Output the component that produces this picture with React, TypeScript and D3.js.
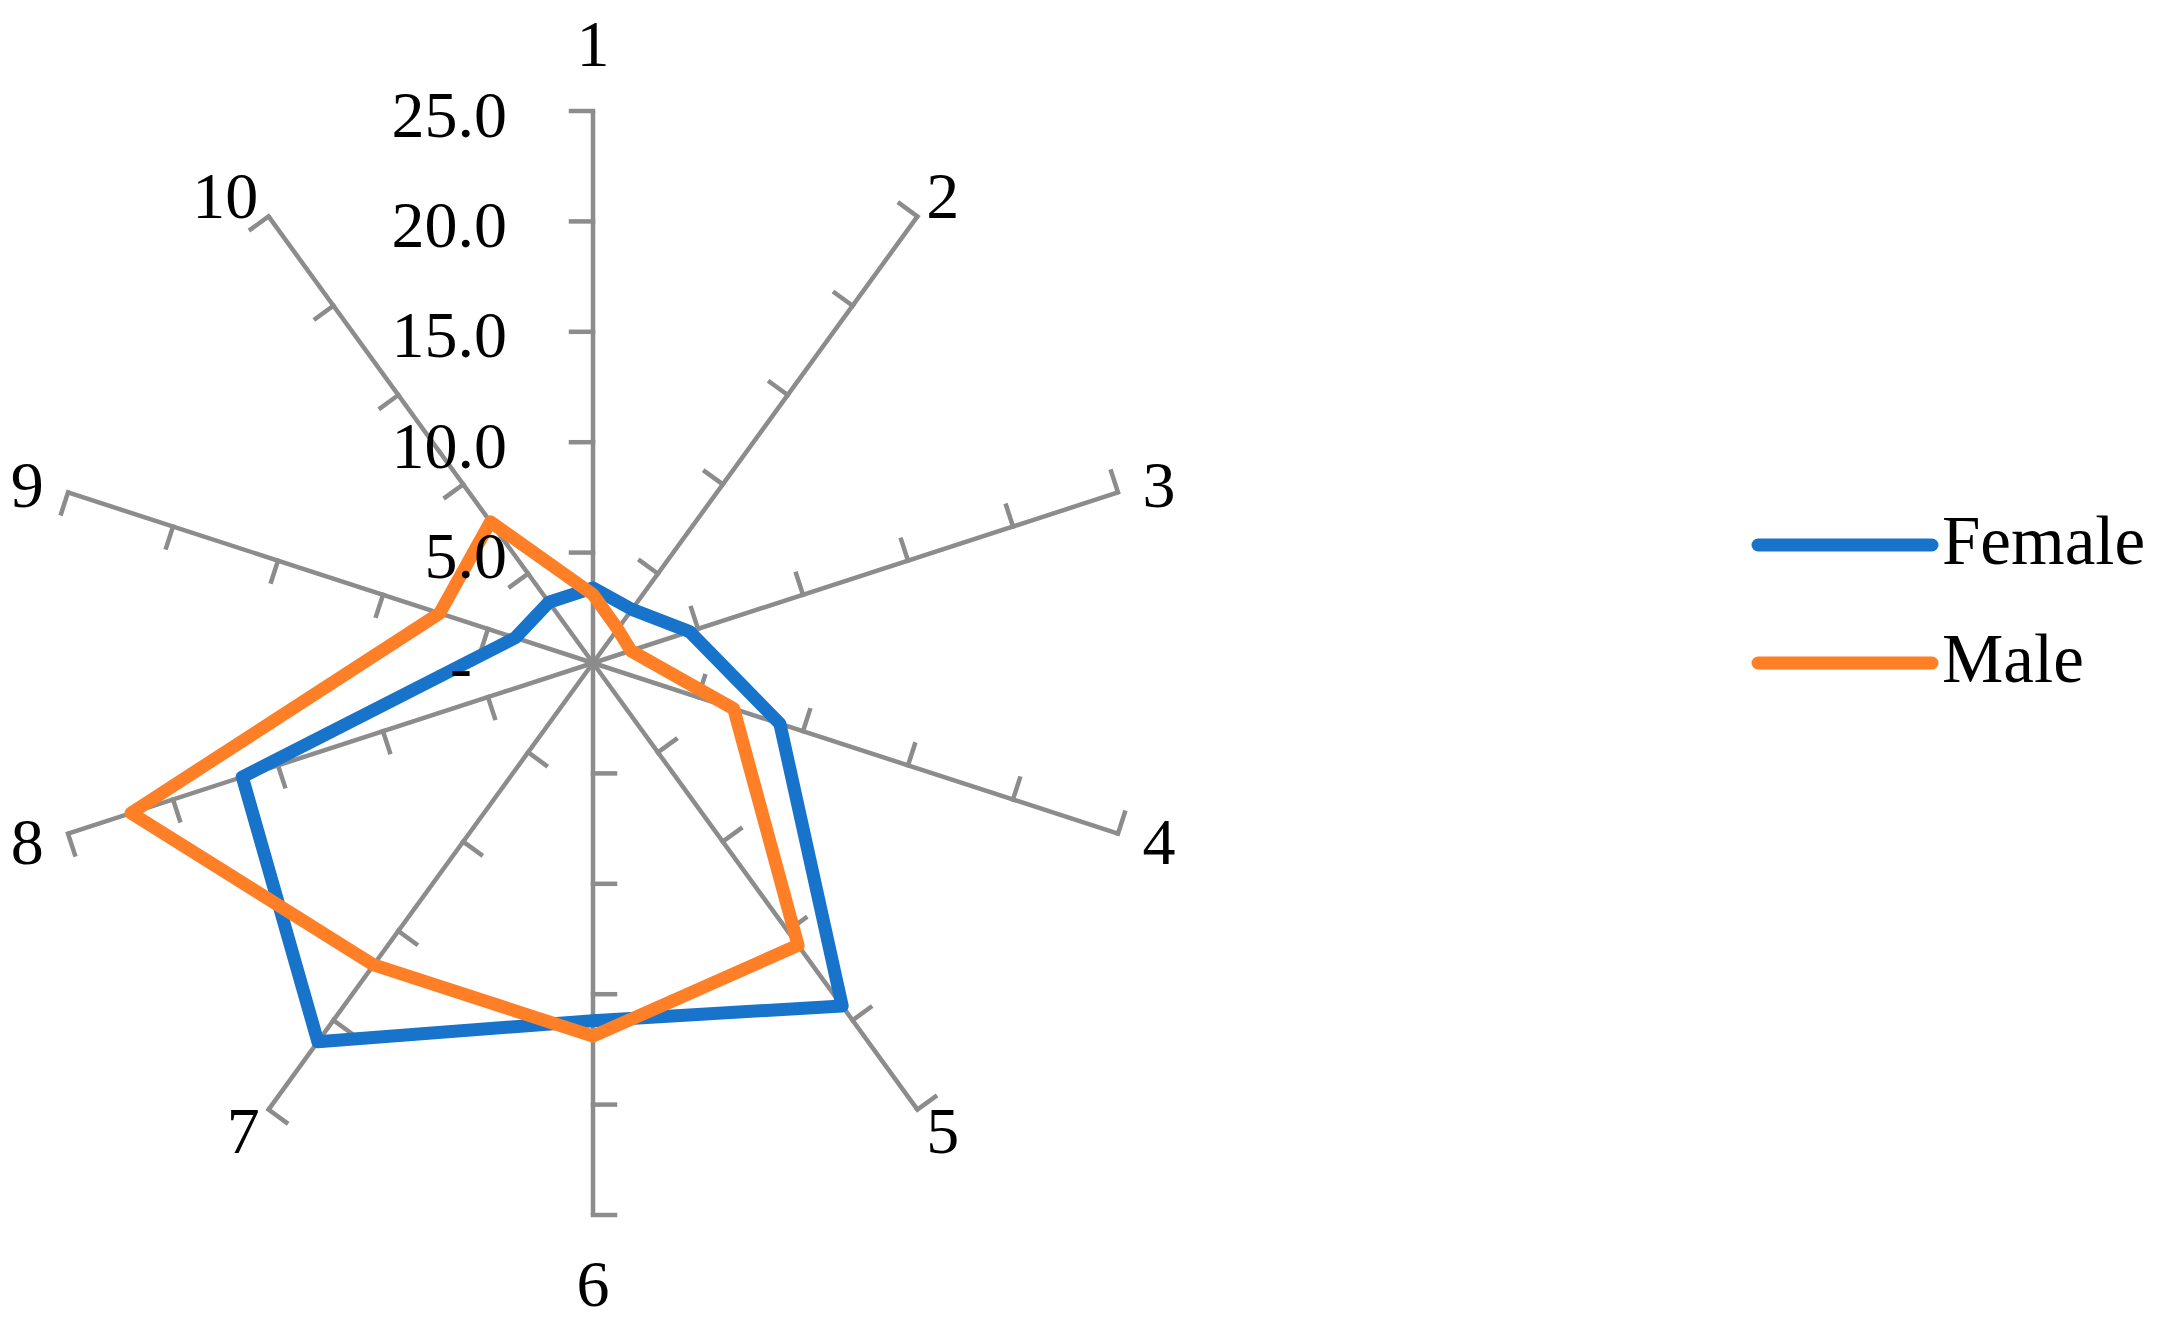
import React, { useRef, useEffect } from 'react';
import * as d3 from 'd3';

const WIDTH = 2165;
const HEIGHT = 1320;
const CX = 593;
const CY = 663;
const R = 552;
const FONT = '"Liberation Serif", "Times New Roman", serif';

const axes = ['1', '2', '3', '4', '5', '6', '7', '8', '9', '10'];
const female = [3.4, 3.0, 4.6, 8.9, 19.2, 16.2, 21.2, 16.7, 3.7, 3.4];
const male = [3.1, 1.9, 1.8, 6.7, 15.8, 16.9, 16.9, 22.0, 7.3, 7.9];
const tickValues = [0, 5, 10, 15, 20, 25];
const tickLabels = ['-', '5.0', '10.0', '15.0', '20.0', '25.0'];

const series = [
  { name: 'Female', values: female, color: '#1874CB' },
  { name: 'Male', values: male, color: '#FF7F27' },
];

export default function App() {
  const svgRef = useRef<SVGSVGElement>(null);

  useEffect(() => {
    if (!svgRef.current) return;
    const svg = d3.select(svgRef.current);
    svg.selectAll('*').remove();

    const r = d3.scaleLinear().domain([0, 25]).range([0, R]);
    const angle = d3.scaleBand().domain(axes).range([0, 2 * Math.PI]).align(0).paddingInner(0).paddingOuter(0);
    const ang = (a: string) => angle(a)!;
    const dir = (a: string) => [Math.sin(ang(a)), -Math.cos(ang(a))];

    const g = svg.append('g').attr('transform', `translate(${CX},${CY})`);

    // spokes
    g.append('g').selectAll('line')
      .data(axes)
      .join('line')
      .attr('x1', 0).attr('y1', 0)
      .attr('x2', d => dir(d)[0] * r(25)).attr('y2', d => dir(d)[1] * r(25))
      .attr('stroke', '#8C8C8C').attr('stroke-width', 4.5);

    // tick marks, perpendicular on the counter-clockwise side
    const tickLen = 22;
    const ticks = axes.flatMap(a => tickValues.filter(v => v > 0).map(v => ({ a, v })));
    g.append('g').selectAll('line')
      .data(ticks)
      .join('line')
      .attr('x1', d => dir(d.a)[0] * r(d.v))
      .attr('y1', d => dir(d.a)[1] * r(d.v))
      .attr('x2', d => dir(d.a)[0] * r(d.v) + dir(d.a)[1] * tickLen)
      .attr('y2', d => dir(d.a)[1] * r(d.v) - dir(d.a)[0] * tickLen)
      .attr('stroke', '#8C8C8C').attr('stroke-width', 4.5).attr('stroke-linecap', 'square');

    // series
    const line = d3.lineRadial<number>()
      .angle((_, i) => ang(axes[i]))
      .radius(v => r(v))
      .curve(d3.curveLinearClosed);

    g.append('g').selectAll('path')
      .data(series)
      .join('path')
      .attr('d', d => line(d.values))
      .attr('fill', 'none')
      .attr('stroke', d => d.color)
      .attr('stroke-width', 13)
      .attr('stroke-linejoin', 'round');

    // value labels on axis 1
    g.append('g').selectAll('text')
      .data(tickValues)
      .join('text')
      .attr('x', d => (d === 0 ? -121 : -86))
      .attr('y', d => -r(d) + 3)
      .attr('text-anchor', 'end')
      .attr('dominant-baseline', 'central')
      .attr('font-family', FONT).attr('font-size', 66).attr('fill', '#000')
      .text((_, i) => tickLabels[i]);

    // category labels
    g.append('g').selectAll('text')
      .data(axes)
      .join('text')
      .attr('x', d => {
        const [dx] = dir(d);
        const extra = d.length > 1 ? Math.sign(dx) * 18 : 0;
        return dx * 595 + extra;
      })
      .attr('y', d => {
        const [, dy] = dir(d);
        return dy * 578 + (Math.abs(dy) > 0.99 ? Math.sign(dy) * 42 : 0);
      })
      .attr('text-anchor', 'middle')
      .attr('dominant-baseline', 'central')
      .attr('font-family', FONT).attr('font-size', 66).attr('fill', '#000')
      .text(d => d);

    // legend
    const legend = svg.append('g').attr('transform', 'translate(1758,545)');
    const ly = d3.scalePoint().domain(series.map(s => s.name)).range([0, 118]);
    const items = legend.selectAll('g')
      .data(series)
      .join('g')
      .attr('transform', d => `translate(0,${ly(d.name)})`);
    items.append('line')
      .attr('x1', 0).attr('x2', 174).attr('y1', 0).attr('y2', 0)
      .attr('stroke', d => d.color).attr('stroke-width', 13).attr('stroke-linecap', 'round');
    items.append('text')
      .attr('x', 184).attr('y', 19)
      .attr('font-family', FONT).attr('font-size', 69).attr('fill', '#000')
      .text(d => d.name);
  }, []);

  return (
    <div style={{ position: 'absolute', left: 0, top: 0, background: '#fff' }}>
      <svg ref={svgRef} width={WIDTH} height={HEIGHT} style={{ display: 'block' }} />
    </div>
  );
}
